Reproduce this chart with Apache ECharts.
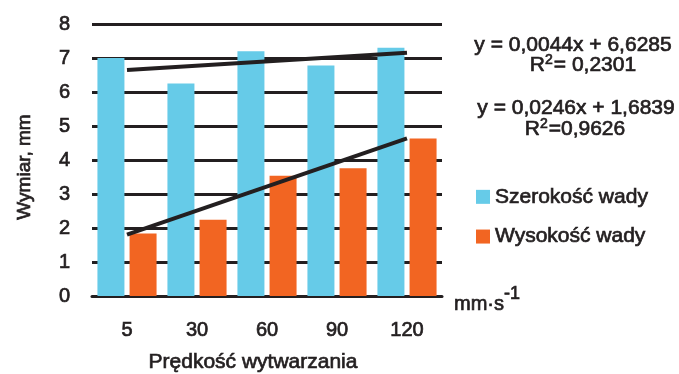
<!DOCTYPE html>
<html>
<head>
<meta charset="utf-8">
<script src="https://cdn.jsdelivr.net/npm/echarts@6/dist/echarts.min.js"></script>
<style>
  html, body { margin: 0; padding: 0; background: #fff; }
  #chart { width: 679px; height: 374px; }
</style>
</head>
<body>
<div id="chart"></div>
<script>
// Production speed categories (mm·s^-1)
const speeds = [5, 30, 60, 90, 120];
const categories = ['5', '30', '60', '90', '120'];
// Defect dimensions, mm
const szerokosc = [7.0, 6.25, 7.2, 6.78, 7.3];
const wysokosc = [1.84, 2.24, 3.54, 3.76, 4.63];
// Linear trend coefficients (slope, intercept) as stated in the equations
const trendSzer = { a: 0.0044, b: 6.6285, r2: '0,2301' };
const trendWys = { a: 0.0246, b: 1.6839, r2: '0,9626' };
const yTicks = { min: 0, max: 8, interval: 1 };

const ink = '#231f20';
const blue = '#66cbe8';
const orange = '#f26522';
const font = "'Liberation Sans', Arial, sans-serif";
// a thin outline in the text colour gives the labels a medium weight
const heavy = { textBorderColor: ink, textBorderWidth: 0.7 };
const outline = { stroke: ink, lineWidth: 0.7 };

// Trend line endpoints at the first and last category
function trendData(t) {
  return speeds.map((s, i) =>
    (i === 0 || i === speeds.length - 1) ? +(t.a * s + t.b).toFixed(4) : '-');
}
function fmt(v, d) { return v.toFixed(d).replace('.', ','); }

// rich styles for graphic text: base run and superscript run
function richSup(size, supSize, basePad, supPad) {
  return {
    b: Object.assign({ font: size + 'px ' + font, fill: ink, padding: basePad }, outline),
    s: Object.assign({ font: supSize + 'px ' + font, fill: ink, padding: supPad }, outline)
  };
}

const chart = echarts.init(document.getElementById('chart'), null, { renderer: 'canvas' });
chart.setOption({
  animation: false,
  backgroundColor: '#fff',
  textStyle: { fontFamily: font, color: ink },
  grid: { left: 92, right: 237, top: 24, bottom: 78, containLabel: false },
  legend: {
    orient: 'vertical',
    left: 476, top: 186, padding: 0,
    itemWidth: 14, itemHeight: 14, itemGap: 18,
    icon: 'rect',
    data: ['Szerokość wady', 'Wysokość wady'],
    textStyle: Object.assign({ fontFamily: font, fontSize: 21, color: ink }, heavy)
  },
  xAxis: {
    type: 'category',
    data: categories,
    axisTick: { show: false },
    axisLine: { show: true, lineStyle: { color: ink, width: 3 } },
    axisLabel: Object.assign({ fontFamily: font, fontSize: 20, color: ink, margin: 24 }, heavy)
  },
  yAxis: {
    type: 'value',
    min: yTicks.min, max: yTicks.max, interval: yTicks.interval,
    axisLine: { show: false },
    axisTick: { show: false },
    splitLine: { lineStyle: { color: ink, width: 3 } },
    axisLabel: Object.assign({ fontFamily: font, fontSize: 20, color: ink, margin: 22 }, heavy)
  },
  series: [
    {
      name: 'Szerokość wady', type: 'bar', data: szerokosc,
      itemStyle: { color: blue },
      barWidth: 27, barGap: '19%'
    },
    {
      name: 'Wysokość wady', type: 'bar', data: wysokosc,
      itemStyle: { color: orange },
      barWidth: 27, barGap: '19%'
    },
    {
      name: 'trend szerokości', type: 'line', data: trendData(trendSzer),
      connectNulls: true, showSymbol: false, symbol: 'none', z: 5,
      lineStyle: { color: ink, width: 4 }, silent: true
    },
    {
      name: 'trend wysokości', type: 'line', data: trendData(trendWys),
      connectNulls: true, showSymbol: false, symbol: 'none', z: 5,
      lineStyle: { color: ink, width: 4 }, silent: true
    }
  ],
  graphic: [
    // axis titles
    {
      type: 'text', x: 25, y: 167, rotation: Math.PI / 2,
      style: Object.assign({ text: 'Wymiar, mm', font: '19px ' + font, fill: ink,
               align: 'center', verticalAlign: 'middle' }, outline)
    },
    {
      type: 'text', x: 253, y: 362,
      style: Object.assign({ text: 'Prędkość wytwarzania', font: '21px ' + font, fill: ink,
               align: 'center', verticalAlign: 'middle' }, outline)
    },
    // regression equations
    {
      type: 'text', x: 573, y: 45,
      style: Object.assign({ text: 'y = ' + fmt(trendSzer.a, 4) + 'x + ' + fmt(trendSzer.b, 4),
               font: '21px ' + font, fill: ink, align: 'center', verticalAlign: 'middle' }, outline)
    },
    {
      type: 'text', x: 583, y: 65,
      style: {
        text: '{b|R}{s|2}{b|= ' + trendSzer.r2 + '}',
        align: 'center', verticalAlign: 'middle',
        rich: richSup(21, 14, [0, 0, 0, 0], [0, 1, 9, 0])
      }
    },
    {
      type: 'text', x: 576, y: 108,
      style: Object.assign({ text: 'y = ' + fmt(trendWys.a, 4) + 'x + ' + fmt(trendWys.b, 4),
               font: '21px ' + font, fill: ink, align: 'center', verticalAlign: 'middle' }, outline)
    },
    {
      type: 'text', x: 575, y: 129,
      style: {
        text: '{b|R}{s|2}{b|=' + trendWys.r2 + '}',
        align: 'center', verticalAlign: 'middle',
        rich: richSup(21, 14, [0, 0, 0, 0], [0, 1, 9, 0])
      }
    },
    // unit of the category axis
    {
      type: 'text', x: 454, y: 282,
      style: {
        text: '{b|mm·s}{s|-1}',
        rich: richSup(20, 18, [12, 0, 0, 0], [0, 0, 8, 0])
      }
    }
  ]
});
</script>
</body>
</html>
